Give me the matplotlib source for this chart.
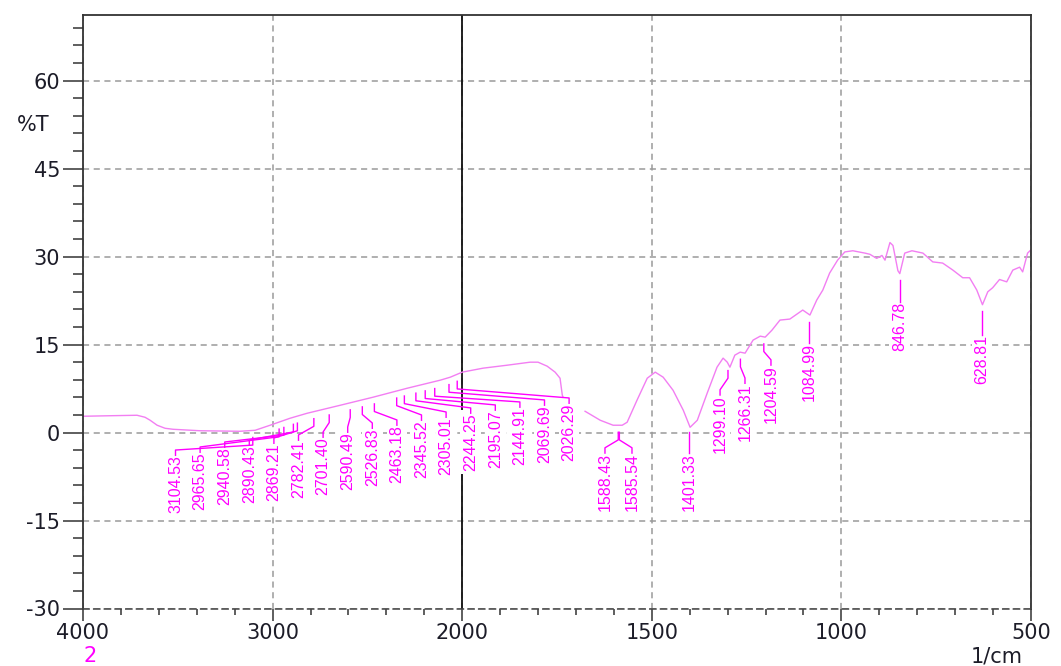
import numpy as np
import matplotlib
matplotlib.use("Agg")
import matplotlib.pyplot as plt
from matplotlib.ticker import FixedLocator

# IR spectrum, %T against wavenumber (1/cm); NaN leaves the break near 1730
wavenumber = [4000, 3857, 3715, 3673, 3646, 3609, 3567, 3525, 3383, 3172,
              3092, 3013, 2908, 2818, 2644, 2470, 2290, 2116, 2063, 2000,
              1945, 1881, 1821, 1800, 1776, 1755, 1742, 1736, 1734, np.nan,
              1676, 1636, 1602, 1578, 1565, 1539, 1512, 1491, 1470, 1444,
              1417, 1399, 1380, 1354, 1328, 1312, 1301, 1294, 1281, 1267,
              1254, 1233, 1214, 1201, 1183, 1162, 1136, 1102, 1083, 1065,
              1049, 1031, 1010, 991, 970, 938, 925, 907, 893, 885,
              872, 864, 851, 846, 833, 814, 785, 759, 733, 706,
              680, 662, 643, 628, 614, 601, 583, 564, 548, 530,
              522, 509, 501]
transmittance = [2.78, 2.87, 2.95, 2.61, 2.10, 1.25, 0.73, 0.56, 0.31, 0.22,
                 0.39, 1.25, 2.44, 3.29, 4.65, 6.03, 7.56, 8.93, 9.44, 10.3,
                 10.98, 11.49, 12.0, 12.0, 11.32, 10.3, 9.27, 6.37, 6.03, np.nan,
                 3.63, 2.10, 1.25, 1.25, 1.76, 5.52, 9.27, 10.3, 9.44, 7.22,
                 3.81, 0.90, 2.10, 6.71, 11.15, 12.69, 12.0, 11.15, 13.2, 13.71,
                 13.54, 15.76, 16.44, 16.27, 17.47, 19.18, 19.35, 20.89, 20.04, 22.6,
                 24.3, 27.2, 29.4, 30.8, 31.0, 30.6, 30.4, 29.7, 30.2, 29.4,
                 32.4, 31.9, 27.6, 27.1, 30.6, 31.0, 30.6, 29.1, 28.9, 27.7,
                 26.4, 26.4, 24.3, 21.8, 24.0, 24.7, 26.1, 25.7, 27.7, 28.2,
                 27.4, 30.6, 31.1]

peaks = [3104.53, 2965.65, 2940.58, 2890.43, 2869.21, 2782.41, 2701.40,
         2590.49, 2526.83, 2463.18, 2345.52, 2305.01, 2244.25, 2195.07,
         2144.91, 2069.69, 2026.29, 1588.43, 1585.54, 1401.33, 1299.10,
         1266.31, 1204.59, 1084.99, 846.78, 628.81]

x_major = [4000, 3000, 2000, 1500, 1000, 500]
y_major = [-30, -15, 0, 15, 30, 45, 60]

# label placement: axes-fraction x (None = straight under the peak) and top in %T
n_slots = 17
label_frac = [(92.5 + 24.6 * i) / 948 for i in range(n_slots)] + \
             [0.5506, 0.5791, None, 0.672, 0.6983, 0.7257, None, None, None]
label_top = [-3.88, -3.36, -2.51, -2.17, -1.83, -1.31, -0.80, 0.05, 0.73,
             1.25, 2.10, 2.61, 3.30, 3.81, 4.32, 4.66, 5.0,
             -3.5, -3.5, -3.5, 6.4, 8.4, 11.5, 15.25, 22.25, 16.6]


# 4000-2000 is drawn at half the scale of 2000-500
def fwd(v):
    v = np.asarray(v, dtype=float)
    return np.where(v > 2000, 2000 + (v - 2000) / 2, v)


def inv(u):
    u = np.asarray(u, dtype=float)
    return np.where(u > 2000, 2000 + (u - 2000) * 2, u)


def frac_to_wn(f):
    return float(inv(3000 - 2500 * f))


pink = "#f27ef2"
magenta = "#ff00ff"
ink = "#1c1c28"

fig = plt.figure(figsize=(10.61, 6.66), dpi=100)
ax = fig.add_axes([83 / 1061, 57.5 / 666, 948 / 1061, 593.5 / 666])
ax.set_xscale("function", functions=(fwd, inv))
ax.set_xlim(4000, 500)
ax.set_ylim(-30, 71.2)

ax.xaxis.set_major_locator(FixedLocator(x_major))
ax.xaxis.set_minor_locator(FixedLocator(list(range(3800, 2000, -200)) +
                                        [v for v in range(1900, 500, -100) if v % 500]))
ax.yaxis.set_major_locator(FixedLocator(y_major))
ax.yaxis.set_minor_locator(FixedLocator(range(-30, 72, 3)))
ax.set_xticklabels([str(v) for v in x_major])
ax.set_yticklabels([str(v) for v in y_major])

ax.tick_params(axis="y", which="major", length=14.4, width=1.1, color="#333333",
               labelsize=15, pad=2, labelcolor=ink)
ax.tick_params(axis="y", which="minor", length=7.2, width=1.1, color="#333333")
ax.tick_params(axis="x", which="major", length=8.6, width=1.1, color="#333333",
               labelsize=15, pad=1.5, labelcolor=ink)
ax.tick_params(axis="x", which="minor", length=4.3, width=1.1, color="#333333")
for lab in ax.get_xticklabels() + ax.get_yticklabels():
    lab.set_family("DejaVu Sans")

ax.set_axisbelow(True)
ax.grid(True, which="major", color="#9a9a9a", linestyle=(0, (4, 3)), linewidth=1.1)
ax.axvline(2000, color="#111111", linewidth=1.3, zorder=1)

for side in ("left", "right", "top"):
    ax.spines[side].set_color("#333333")
    ax.spines[side].set_linewidth(1.3)
ax.spines["bottom"].set_color("#444444")
ax.spines["bottom"].set_linestyle((0, (4, 3)))
ax.spines["bottom"].set_linewidth(1.1)

wn = np.array(wavenumber)
tr = np.array(transmittance)
ax.plot(wn, tr, color=pink, linewidth=1.0, zorder=2)

# peak picks: stub under the curve, leader to the label, vertical label text
ok = ~np.isnan(wn)
wn_s = wn[ok][::-1]
tr_s = tr[ok][::-1]
for pk, frac, top in zip(peaks, label_frac, label_top):
    t_curve = np.interp(pk, wn_s, tr_s)
    y_start = t_curve - 1.2
    if frac is None:
        xl = pk
        xs, ys = [pk, pk], [y_start, top]
    else:
        xl = frac_to_wn(frac)
        xs = [pk, pk, xl, xl]
        ys = [y_start, y_start - 1.3, top + 0.9, top]
    ax.plot(xs, ys, color=magenta, linewidth=1.0, zorder=4)
    ax.text(xl, top, f"{pk:.2f}", rotation=90, ha="center", va="top",
            color=magenta, fontsize=11.5,
            family=["Liberation Sans Narrow", "Liberation Sans"],
            bbox=dict(facecolor="white", edgecolor="none", pad=2.0), zorder=3)

fig.text(33 / 1061, 1 - 125 / 666, "%T", ha="center", va="center",
         fontsize=15, color=ink, family="DejaVu Sans")
fig.text(997 / 1061, 1 - 657 / 666, "1/cm", ha="center", va="center",
         fontsize=15, color=ink, family="DejaVu Sans")
fig.text(90 / 1061, 1 - 656 / 666, "2", ha="center", va="center",
         fontsize=15, color=magenta, family="DejaVu Sans")

fig.savefig("out.png", dpi=100)
